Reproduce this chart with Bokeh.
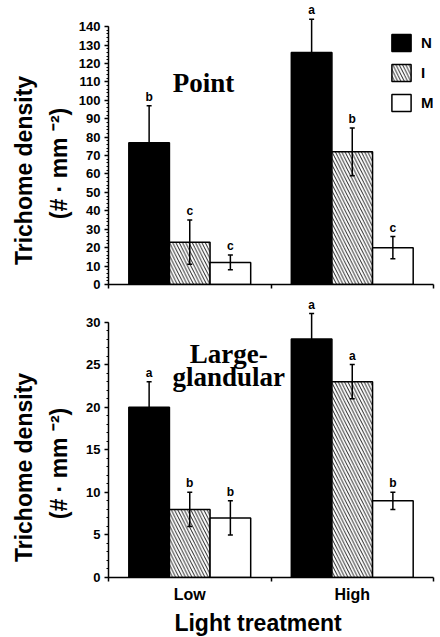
import math
from bokeh.plotting import figure
from bokeh.models import (ColumnDataSource, Whisker, TeeHead, FixedTicker,
                          SingleIntervalTicker, Legend, LegendItem, Range1d)
from bokeh.layouts import column, row
from bokeh.embed import file_html
from bokeh.resources import INLINE
from bokeh.core.properties import value

# ---------------- data ----------------
light = ["Low", "High"]
series = ["N", "I", "M"]

point_N = [77, 126]
point_I = [23, 72]
point_M = [12, 20]
point_N_err = [20, 18]
point_I_err = [12, 13]
point_M_err = [4, 6]
point_N_sig = ["b", "a"]
point_I_sig = ["c", "b"]
point_M_sig = ["c", "c"]

large_N = [20, 28]
large_I = [8, 23]
large_M = [7, 9]
large_N_err = [3, 3]
large_I_err = [2, 2]
large_M_err = [2, 1]
large_N_sig = ["a", "a"]
large_I_sig = ["b", "a"]
large_M_sig = ["b", "b"]

point_y_ticks = (0, 140, 10)
large_y_ticks = (0, 30, 5)

y_title = "Trichome density"
y_unit = "(# · mm ⁻²)"
x_title = "Light treatment"

SANS = "Liberation Sans"
SERIF = "Liberation Serif"

W, H = 440, 637
LEFT = 75

group_center = [i + 0.5 for i in range(len(light))]
offsets = {"N": -0.25, "I": 0.0, "M": 0.25}
styles = {
    "N": dict(fill_color="black", hatch_pattern=None),
    "I": dict(fill_color="white", hatch_pattern="\\"),
    "M": dict(fill_color="white", hatch_pattern=None),
}


def blank(width, height, xr, yr):
    f = figure(width=width, height=height, output_backend="svg", toolbar_location=None,
               x_range=Range1d(*xr), y_range=Range1d(*yr),
               x_axis_type=None, y_axis_type=None,
               min_border=0, outline_line_color=None)
    f.grid.visible = False
    return f


def make_panel(means, errs, sigs, yticks, yend, titles, title_x, title_y,
               height, border_top, border_bottom, x_labels, legend):
    p = figure(width=W - LEFT, height=height, output_backend="svg", toolbar_location=None,
               x_range=Range1d(0, 2), y_range=Range1d(0, yend),
               min_border_left=107 - LEFT, min_border_right=7,
               min_border_top=border_top, min_border_bottom=border_bottom,
               outline_line_color=None, background_fill_color="white")
    p.xgrid.visible = False
    p.ygrid.visible = False

    renderers = {}
    for s in series:
        xs = [c + offsets[s] for c in group_center]
        src = ColumnDataSource(dict(x=xs, top=means[s],
                                    upper=[m + e for m, e in zip(means[s], errs[s])],
                                    lower=[m - e for m, e in zip(means[s], errs[s])],
                                    sig=sigs[s]))
        st = styles[s]
        kw = dict(x="x", top="top", width=0.25, source=src, fill_color=st["fill_color"],
                  line_color="black", line_width=1.5)
        if st["hatch_pattern"]:
            kw.update(hatch_pattern=st["hatch_pattern"], hatch_color="black",
                      hatch_scale=6.5, hatch_weight=0.9)
        r = p.vbar(**kw)
        renderers[s] = r
        w = Whisker(base="x", upper="upper", lower="lower", source=src,
                    line_color="black", line_width=1.5, level="overlay",
                    upper_head=TeeHead(size=5, line_width=1.5, line_color="black"),
                    lower_head=TeeHead(size=5, line_width=1.5, line_color="black"))
        p.add_layout(w)
        p.text(x="x", y="upper", text="sig", source=src, text_align="center",
               text_baseline="bottom", y_offset=-2, text_font=value(SANS),
               text_font_size="12px", text_font_style="bold", text_color="black")

    # panel title
    p.text(x=title_x, y=title_y, text=titles, text_align="center",
           text_baseline="alphabetic", text_font=value(SERIF),
           text_font_size="27px", text_font_style="bold", text_color="black")

    # y axis
    ya = p.yaxis[0]
    ya.ticker = SingleIntervalTicker(interval=yticks[2], num_minor_ticks=5)
    ya.bounds = (yticks[0], yticks[1])
    ya.axis_line_width = 1.5
    ya.axis_line_color = "black"
    ya.major_tick_line_width = 1.5
    ya.minor_tick_line_width = 1
    ya.major_tick_out = 4
    ya.major_tick_in = 0
    ya.minor_tick_out = 2
    ya.minor_tick_in = 0
    ya.major_label_text_font = SANS
    ya.major_label_text_font_size = "13px"
    ya.major_label_text_font_style = "bold"
    ya.major_label_text_color = "black"
    ya.major_label_standoff = 4

    # x axis
    xa = p.xaxis[0]
    xa.axis_line_width = 1.5
    xa.axis_line_color = "black"
    xa.major_tick_line_color = None
    xa.major_tick_out = 0
    xa.minor_tick_line_width = 1.5
    xa.minor_tick_out = 4
    xa.minor_tick_in = 0
    if x_labels:
        xa.ticker = FixedTicker(ticks=group_center, minor_ticks=[0, 1, 2])
        xa.major_label_overrides = {c: lab for c, lab in zip(group_center, light)}
        xa.major_label_text_font = SANS
        xa.major_label_text_font_size = "16px"
        xa.major_label_text_font_style = "bold"
        xa.major_label_text_color = "black"
        xa.major_label_standoff = 4
    else:
        xa.ticker = FixedTicker(ticks=[], minor_ticks=[0, 1, 2])
        xa.major_label_text_font_size = "0px"

    if legend:
        items = [LegendItem(label=s, renderers=[renderers[s]]) for s in series]
        lg = Legend(items=items, location=(281, 171), padding=0, margin=0,
                    border_line_color=None, background_fill_alpha=0,
                    glyph_width=24, glyph_height=21, label_height=21, spacing=9,
                    label_standoff=8, label_text_font=SANS, label_text_font_size="15px",
                    label_text_font_style="bold", label_text_color="black",
                    label_text_baseline="middle")
        p.add_layout(lg)
    return p


top = make_panel(
    {"N": point_N, "I": point_I, "M": point_M},
    {"N": point_N_err, "I": point_I_err, "M": point_M_err},
    {"N": point_N_sig, "I": point_I_sig, "M": point_M_sig},
    point_y_ticks, 152, ["Point"], [0.585], [109.2],
    height=296, border_top=4, border_bottom=12, x_labels=False, legend=True)

bottom = make_panel(
    {"N": large_N, "I": large_I, "M": large_M},
    {"N": large_N_err, "I": large_I_err, "M": large_M_err},
    {"N": large_N_sig, "I": large_I_sig, "M": large_M_sig},
    large_y_ticks, 33, ["Large-", "glandular"], [0.74, 0.74], [26.3, 23.5],
    height=310, border_top=0, border_bottom=29, x_labels=True, legend=False)

# strip for the x-axis title (coordinates in page pixels, y down)
xstrip = blank(W - LEFT, H - 296 - 310, (LEFT, W), (H, 296 + 310))
xstrip.text(x=[243], y=[622], text=[x_title], text_align="center",
            text_baseline="alphabetic", text_font=value(SANS), text_font_size="23px",
            text_font_style="bold", text_color="black")

# strip for the y-axis titles (coordinates in page pixels, y down)
ystrip = blank(LEFT, H, (0, LEFT), (H, 0))
ystrip.text(x=[23, 58, 23, 58], y=[170, 163, 467, 463],
            text=[y_title, y_unit, y_title, y_unit], angle=math.pi / 2,
            text_align="center", text_baseline="middle", text_font=value(SANS),
            text_font_size="23px", text_font_style="bold", text_color="black")

layout = row(ystrip, column(top, bottom, xstrip, spacing=0), spacing=0)
open("out.html", "w").write(file_html(layout, INLINE))
